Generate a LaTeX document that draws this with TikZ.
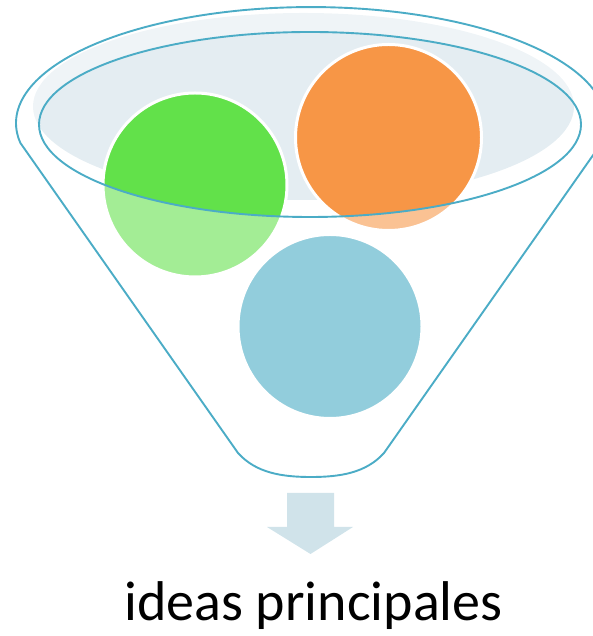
\documentclass[tikz,border=0pt]{standalone}
\usepackage{fontspec}
\setmainfont{Carlito}
\definecolor{funnelline}{HTML}{4BACC6}
\definecolor{bowlfill}{HTML}{E4EDF2}
\definecolor{greenball}{HTML}{62E14A}
\definecolor{orangeball}{HTML}{F79646}
\definecolor{blueball}{HTML}{92CDDC}
\definecolor{arrowfill}{HTML}{D0E3EA}

\begin{document}
\begin{tikzpicture}[x=1pt,y=1pt,
	ball/.style={draw=white,line width=3pt},
	rim/.style={draw=funnelline,line width=1.9pt}]
	\useasboundingbox (0,0) rectangle (592,636);
	\fill[bowlfill] (303.5,529.5) ellipse [x radius=270.5pt, y radius=93.5pt];
	\path[ball,fill=greenball] (195,451) circle [radius=92pt];
	\path[ball,fill=orangeball] (388.5,498.5) circle [radius=93pt];
	% front of the funnel
	\fill[white,fill opacity=0.42,even odd rule] (20.4,493) -- (238,183) .. controls (256,163) and (282,159) .. (311,159) .. controls (340,159) and (366,163) .. (384,183) -- (601.6,493) arc [start angle=-9.9, end angle=189.9, x radius=295pt, y radius=116pt] -- cycle
		(310,511.5) ellipse [x radius=271pt, y radius=92.5pt];
	\draw[rim] (310,511.5) ellipse [x radius=271pt, y radius=92.5pt];
	\path[ball,fill=blueball] (330,309.5) circle [radius=92pt];
	\draw[rim,line join=round] (20.4,493) -- (238,183) .. controls (256,163) and (282,159) .. (311,159) .. controls (340,159) and (366,163) .. (384,183) -- (601.6,493) arc [start angle=-9.9, end angle=189.9, x radius=295pt, y radius=116pt] -- cycle;
	\fill[arrowfill] (287,143) -- (334,143) -- (334,109) -- (353,109) -- (310.5,82) -- (267,109) -- (287,109) -- cycle;
	\node[anchor=base,inner sep=0pt] (caption) at (313.5,15) {\fontsize{56}{60}\selectfont ideas principales};
\end{tikzpicture}
\end{document}
